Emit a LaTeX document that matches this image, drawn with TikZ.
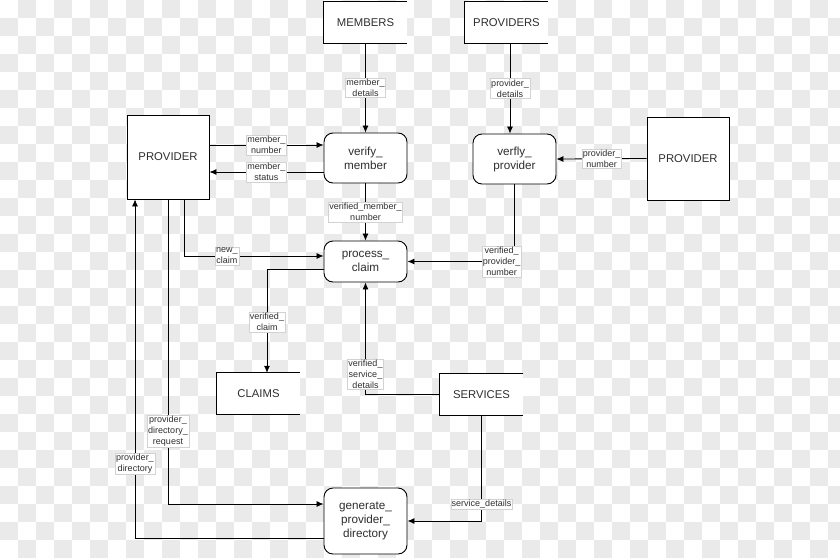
\documentclass[tikz,border=0pt]{standalone}
\usepackage{fontspec}
\setmainfont{Liberation Sans}
\usetikzlibrary{arrows.meta,positioning}
\definecolor{checker}{HTML}{EAEAEA}
\definecolor{labline}{HTML}{D2D2D2}
\definecolor{ink}{HTML}{2E2E2E}
\newcommand{\storeedge}[1]{\draw[line width=0.8pt] (#1.north east) -- (#1.north west) -- (#1.south west) -- (#1.south east);}
\tikzset{
  every node/.style={font=\fontsize{11.3}{13}\selectfont,text=ink},
  proc/.style={draw,rounded corners=9pt,fill=white,align=center,minimum width=83pt,
               font=\fontsize{11.7}{14}\selectfont,line width=0.9pt},
  ent/.style={draw,fill=white,minimum width=82pt,minimum height=84pt,line width=0.8pt},
  store/.style={fill=white,minimum width=83pt,minimum height=41pt},
  lab/.style={fill=white,draw=labline,line width=0.4pt,align=center,inner sep=1pt,
              font=\fontsize{9}{11}\selectfont},
  ar/.style={-{Latex[length=7pt,width=6pt]},line width=0.8pt},
}
\begin{document}
\begin{tikzpicture}[x=1pt,y=-1pt]
\useasboundingbox (0,0) rectangle (840,557);
\begin{scope}
\clip (0,0) rectangle (840,557);
\fill[white] (0,0) rectangle (840,557);
\foreach \i in {0,...,46}{\foreach \j in {0,...,30}{
  \pgfmathparse{int(mod(\i+\j,2))}
  \ifnum\pgfmathresult=1 \fill[checker] (\i*18,\j*18) rectangle ++(18,18); \fi}}
\end{scope}

\node[store] (members) at (365.5,22.5) {MEMBERS};
\node[store] (providers) at (506.5,22.5) {PROVIDERS};
\node[ent] (provA) at (168,157) {PROVIDER};
\node[ent,minimum height=83pt] (provB) at (688,158.5) {PROVIDER};
\node[proc,minimum height=50pt] (verifymember) at (365.5,158) {verify\_\\member};
\node[proc,minimum height=50pt] (verifyprovider) at (514.5,159) {verfly\_\\provider};
\node[proc,minimum height=41pt] (processclaim) at (365.5,261.5) {process\_\\claim};
\node[store] (claims) at (258.5,393.5) {CLAIMS};
\node[store] (services) at (481.5,394.5) {SERVICES};
\node[proc,minimum height=66pt] (genpd) at (365.5,521) {generate\_\\provider\_\\directory};
\storeedge{members}
\storeedge{providers}
\storeedge{claims}
\storeedge{services}

\draw[ar] (members) -- (verifymember) node[lab,midway] {member\_\\details};
\draw[ar] ([xshift=3.5pt]providers.south) -- ([xshift=-4.5pt]verifyprovider.north) node[lab,midway] {provider\_\\details};
\draw[ar] (provA.east |- 0,145) -- (verifymember.west |- 0,145) node[lab,midway] {member\_\\number};
\draw[ar] (verifymember.west |- 0,172) -- (provA.east |- 0,172) node[lab,midway] {member\_\\status};
\draw[ar] (provB.west) -- (verifyprovider.east) node[lab,midway] {provider\_\\number};
\draw[ar] (verifymember) -- (processclaim) node[lab,midway] {verified\_member\_\\number};
\draw[ar] (verifyprovider.south) |- (processclaim.east) node[lab,pos=0.56] {verified\_\\provider\_\\number};
\draw[ar] (provA.south -| 184,0) |- ([yshift=5.5pt]processclaim.west) node[lab,pos=0.654] {new\_\\claim};
\draw[ar] ([yshift=-7.5pt]processclaim.west) -| (claims.north -| 267,0) node[lab,pos=0.755] {verified\_\\claim};
\draw[ar] (services.west) -| (processclaim.south) node[lab,pos=0.59] {verified\_\\service\_\\details};
\draw[ar] (services.south) |- (genpd.east) node[lab,pos=0.42] {service\_details};
\draw[ar] (provA.south) |- ([yshift=17pt]genpd.west) node[lab,pos=0.38] {provider\_\\directory\_\\request};
\draw[ar] ([yshift=-17pt]genpd.west) -| (provA.south -| 135,0) node[lab,pos=0.61] {provider\_\\directory};
\end{tikzpicture}
\end{document}
